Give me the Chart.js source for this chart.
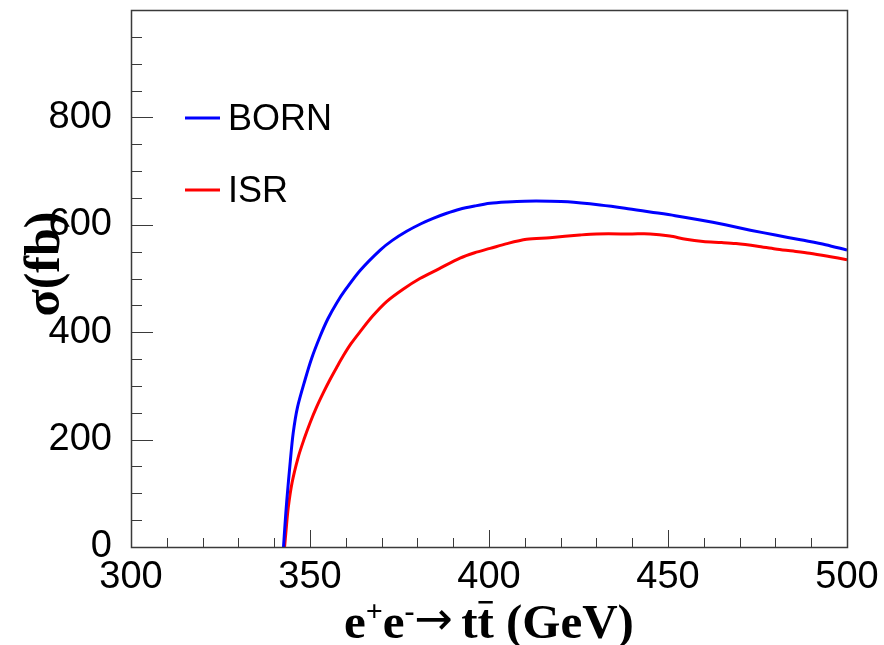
<!DOCTYPE html>
<html>
<head>
<meta charset="utf-8">
<script src="https://cdn.jsdelivr.net/npm/chart.js@4/dist/chart.umd.min.js"></script>
<style>
  html, body { margin: 0; padding: 0; background: #fff; }
  #wrap { width: 884px; height: 645px; }
</style>
</head>
<body>
<div id="wrap"><canvas id="c" width="884" height="645"></canvas></div>
<script>
// Centre-of-mass energy (GeV) and cross sections (fb)
const bornEnergy = [342.6, 343.0, 343.5, 344.5, 345.3, 346.5, 348.6, 350.5, 352.8, 355.0, 357.5, 360.0,
  364.0, 369.6, 373.0, 377.0, 381.0, 384.4, 388.0, 391.8, 396.0, 400.3, 405.0, 410.0, 417.0, 422.0,
  431.0, 438.0, 445.0, 452.0, 459.0, 466.0, 473.0, 480.0, 487.0, 494.0, 500.0];
const bornXsec = [0, 40, 85, 160, 212, 260, 311, 352, 392, 425, 455, 480,
  515, 553, 571, 588, 602, 612, 621, 629, 635, 640, 642.5, 644, 644, 643,
  637, 631, 624, 617, 609, 600, 590, 581, 572, 563, 553];

const isrEnergy = [342.9, 343.3, 343.9, 345.0, 346.7, 348.3, 350.0, 351.8, 353.7, 355.6, 357.5, 359.3,
  361.5, 364.0, 367.5, 371.4, 376.0, 380.7, 386.0, 391.9, 396.0, 400.3, 405.0, 410.5, 417.0, 425.4,
  430.0, 440.0, 445.0, 450.5, 455.0, 459.8, 465.0, 469.0, 475.0, 480.0, 485.0, 489.6, 495.0, 500.0];
const isrXsec = [0, 30, 72, 120, 167, 200, 231, 260, 287, 312, 335, 356,
  379, 401, 430, 457, 480, 500, 518, 538, 548, 556, 565, 573, 576, 581,
  583, 583, 583, 579, 573, 569, 567, 565, 560, 555, 551, 547, 541, 535];

const xTickLabels = [300, 350, 400, 450, 500];
const yTickLabels = [0, 200, 400, 600, 800];
const seriesNames = ['BORN', 'ISR'];
const seriesColors = ['#0000ff', '#ff0000'];

const X_MIN = 300, X_MAX = 500, Y_MIN = 0, Y_MAX = 1000;
const frameColor = '#3a3a3a';

function toPoints(xs, ys) { return xs.map((x, i) => ({ x: x, y: ys[i] })); }

// Frame around the plot area and inward-pointing ticks (major + minor)
const frameTicks = {
  id: 'frameTicks',
  afterDatasetsDraw(chart) {
    const { ctx, chartArea: a, scales } = chart;
    const xs = scales.x, ys = scales.y;
    ctx.save();
    ctx.strokeStyle = frameColor;
    ctx.lineWidth = 1;
    ctx.beginPath();
    for (let v = X_MIN; v <= X_MAX; v += 10) {
      const px = Math.round(xs.getPixelForValue(v)) + 0.5;
      const len = (v % 50 === 0) ? 17 : 9;
      ctx.moveTo(px, a.bottom);
      ctx.lineTo(px, a.bottom - len);
    }
    for (let v = Y_MIN; v < Y_MAX; v += 50) {
      const py = Math.round(ys.getPixelForValue(v)) + 0.5;
      const len = (v % 200 === 0) ? 22 : 11;
      ctx.moveTo(a.left, py);
      ctx.lineTo(a.left + len, py);
    }
    ctx.stroke();
    ctx.lineWidth = 1.5;
    ctx.strokeRect(Math.round(a.left) + 0.5, Math.round(a.top) + 0.5,
      Math.round(a.right - a.left), Math.round(a.bottom - a.top));
    ctx.restore();
  }
};

// Legend entries and axis titles
const annotations = {
  id: 'annotations',
  afterDraw(chart) {
    const { ctx } = chart;
    ctx.save();
    // legend
    const legendY = [118, 190];
    ctx.font = '36px "Liberation Sans", Arial, sans-serif';
    ctx.textBaseline = 'middle';
    ctx.textAlign = 'left';
    seriesNames.forEach((name, i) => {
      ctx.strokeStyle = seriesColors[i];
      ctx.lineWidth = 3;
      ctx.beginPath();
      ctx.moveTo(185, legendY[i]);
      ctx.lineTo(220, legendY[i]);
      ctx.stroke();
      ctx.fillStyle = '#000';
      ctx.fillText(name, 228, legendY[i] + 2);
    });

    // y-axis title
    ctx.save();
    ctx.translate(46, 264);
    ctx.rotate(-Math.PI / 2);
    ctx.font = 'bold 50px "Liberation Serif", "Times New Roman", serif';
    ctx.textAlign = 'center';
    ctx.textBaseline = 'middle';
    ctx.fillStyle = '#000';
    ctx.fillText('σ(fb)', 0, 0);
    ctx.restore();

    // x-axis title: e+e- -> t tbar (GeV)
    const big = 'bold 49px "Liberation Serif", "Times New Roman", serif';
    const small = 'bold 30px "Liberation Serif", "Times New Roman", serif';
    const base = 638;
    let x = 344;
    ctx.fillStyle = '#000';
    ctx.textBaseline = 'alphabetic';
    ctx.textAlign = 'left';
    const put = (txt, font, dy) => {
      ctx.font = font;
      ctx.fillText(txt, x, base + dy);
      const w = ctx.measureText(txt).width;
      x += w;
      return w;
    };
    put('e', big, 0);
    put('+', small, -17);
    put('e', big, 0);
    put('-', small, -17);
    ctx.font = '46px "DejaVu Sans", sans-serif';
    ctx.fillText('\u2192', x, base - 4);
    x += ctx.measureText('\u2192').width + 8;
    put('t', big, 0);
    const tStart = x;
    const tw = put('t', big, 0);
    ctx.fillRect(tStart + 1, base - 37, tw - 2, 2.5);
    put(' (GeV)', big, 0);
    ctx.restore();
  }
};

new Chart(document.getElementById('c'), {
  type: 'line',
  data: {
    datasets: [
      { label: seriesNames[0], data: toPoints(bornEnergy, bornXsec), borderColor: seriesColors[0],
        borderWidth: 3, pointRadius: 0, tension: 0.3, fill: false },
      { label: seriesNames[1], data: toPoints(isrEnergy, isrXsec), borderColor: seriesColors[1],
        borderWidth: 3, pointRadius: 0, tension: 0.3, fill: false }
    ]
  },
  options: {
    responsive: false,
    animation: false,
    layout: { padding: { top: 10, right: 37, bottom: 0, left: 0 } },
    plugins: { legend: { display: false }, tooltip: { enabled: false } },
    scales: {
      x: {
        type: 'linear', min: X_MIN, max: X_MAX,
        grid: { display: false }, border: { display: false },
        afterBuildTicks: s => { s.ticks = xTickLabels.map(v => ({ value: v })); },
        afterFit: s => { s.height = 98; s.paddingLeft = 0; s.paddingRight = 0; },
        ticks: { color: '#000', padding: 0, maxRotation: 0,
          font: { family: '"Liberation Sans", Arial, sans-serif', size: 38 } }
      },
      y: {
        type: 'linear', min: Y_MIN, max: Y_MAX,
        grid: { display: false }, border: { display: false },
        afterBuildTicks: s => { s.ticks = yTickLabels.map(v => ({ value: v })); },
        afterFit: s => { s.width = 131; s.paddingTop = 0; s.paddingBottom = 0; },
        ticks: { color: '#000', padding: 11,
          font: { family: '"Liberation Sans", Arial, sans-serif', size: 38 } }
      }
    }
  },
  plugins: [frameTicks, annotations]
});
</script>
</body>
</html>
